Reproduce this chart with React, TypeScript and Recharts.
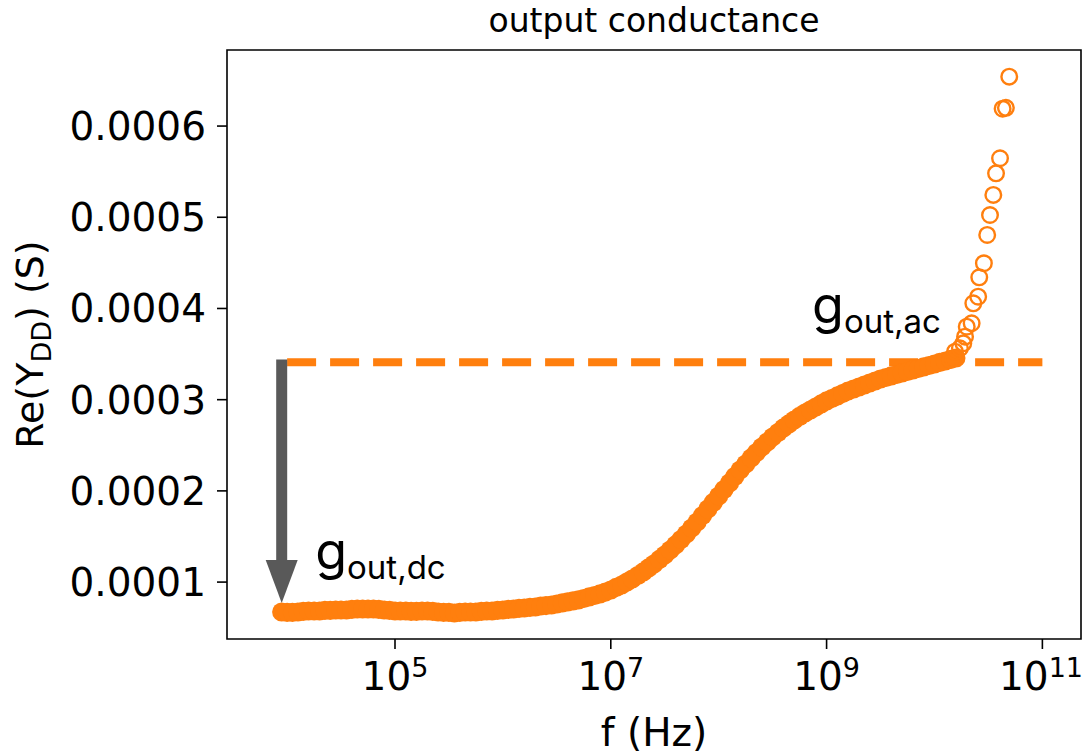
import React from 'react';
import {
  ScatterChart,
  Scatter,
  XAxis,
  YAxis,
  ReferenceLine,
  ReferenceArea,
  ReferenceDot,
} from 'recharts';

const ORANGE = '#ff7f0e';
const ARROW_GRAY = '#595959';
const FONT = '"DejaVu Sans", sans-serif';
const ANNOT_FONT = 'Inter, "DejaVu Sans", sans-serif';

// Frequency sweep (Hz) and measured Re(Y_DD) (S), dense part of the sweep
const sweepFreq = [
  8.91e3, 1.0e4, 1.12e4, 1.26e4, 1.41e4, 1.58e4, 1.78e4, 2.0e4, 2.24e4, 2.51e4, 2.82e4,
  3.16e4, 3.55e4, 3.98e4, 4.47e4, 5.01e4, 5.62e4, 6.31e4, 7.08e4, 7.94e4, 8.91e4,
  1.0e5, 1.12e5, 1.26e5, 1.41e5, 1.58e5, 1.78e5, 2.0e5, 2.24e5, 2.51e5, 2.82e5,
  3.16e5, 3.55e5, 3.98e5, 4.47e5, 5.01e5, 5.62e5, 6.31e5, 7.08e5, 7.94e5, 8.91e5,
  1.0e6, 1.12e6, 1.26e6, 1.41e6, 1.58e6, 1.78e6, 2.0e6, 2.24e6, 2.51e6, 2.82e6,
  3.16e6, 3.55e6, 3.98e6, 4.47e6, 5.01e6, 5.62e6, 6.31e6, 7.08e6, 7.94e6, 8.91e6,
  1.0e7, 1.12e7, 1.26e7, 1.41e7, 1.58e7, 1.78e7, 2.0e7, 2.24e7, 2.51e7, 2.82e7,
  3.16e7, 3.55e7, 3.98e7, 4.47e7, 5.01e7, 5.62e7, 6.31e7, 7.08e7, 7.94e7, 8.91e7,
  1.0e8, 1.12e8, 1.26e8, 1.41e8, 1.58e8, 1.78e8, 2.0e8, 2.24e8, 2.51e8, 2.82e8,
  3.16e8, 3.55e8, 3.98e8, 4.47e8, 5.01e8, 5.62e8, 6.31e8, 7.08e8, 7.94e8, 8.91e8,
  1.0e9, 1.12e9, 1.26e9, 1.41e9, 1.58e9, 1.78e9, 2.0e9, 2.24e9, 2.51e9, 2.82e9,
  3.16e9, 3.55e9, 3.98e9, 4.47e9, 5.01e9, 5.62e9, 6.31e9, 7.08e9, 7.94e9, 8.91e9,
  1.0e10, 1.12e10, 1.26e10, 1.41e10, 1.58e10,
];
const sweepReY = [
  6.72e-5, 6.67e-5, 6.67e-5, 6.72e-5, 6.78e-5, 6.83e-5, 6.83e-5, 6.83e-5, 6.89e-5, 6.89e-5, 6.94e-5,
  6.94e-5, 6.94e-5, 7.0e-5, 7.05e-5, 7.05e-5, 7.05e-5, 7.05e-5, 7.0e-5, 6.94e-5, 6.89e-5,
  6.83e-5, 6.83e-5, 6.83e-5, 6.78e-5, 6.78e-5, 6.83e-5, 6.83e-5, 6.78e-5, 6.72e-5, 6.67e-5,
  6.67e-5, 6.61e-5, 6.67e-5, 6.72e-5, 6.72e-5, 6.72e-5, 6.78e-5, 6.83e-5, 6.83e-5, 6.89e-5,
  6.94e-5, 7.0e-5, 7.05e-5, 7.11e-5, 7.16e-5, 7.22e-5, 7.27e-5, 7.38e-5, 7.43e-5, 7.49e-5,
  7.6e-5, 7.71e-5, 7.82e-5, 7.93e-5, 8.04e-5, 8.2e-5, 8.37e-5, 8.53e-5, 8.7e-5, 8.91e-5,
  9.13e-5, 9.41e-5, 9.68e-5, 1.001e-4, 1.034e-4, 1.072e-4, 1.111e-4, 1.155e-4, 1.198e-4, 1.248e-4,
  1.297e-4, 1.352e-4, 1.407e-4, 1.467e-4, 1.527e-4, 1.593e-4, 1.659e-4, 1.73e-4, 1.802e-4, 1.873e-4,
  1.944e-4, 2.015e-4, 2.087e-4, 2.158e-4, 2.229e-4, 2.295e-4, 2.361e-4, 2.421e-4, 2.481e-4, 2.536e-4,
  2.591e-4, 2.64e-4, 2.69e-4, 2.734e-4, 2.777e-4, 2.816e-4, 2.854e-4, 2.887e-4, 2.92e-4, 2.953e-4,
  2.986e-4, 3.013e-4, 3.041e-4, 3.068e-4, 3.095e-4, 3.117e-4, 3.139e-4, 3.161e-4, 3.183e-4, 3.205e-4,
  3.227e-4, 3.243e-4, 3.26e-4, 3.276e-4, 3.293e-4, 3.309e-4, 3.326e-4, 3.342e-4, 3.359e-4, 3.375e-4,
  3.391e-4, 3.408e-4, 3.424e-4, 3.441e-4, 3.457e-4,
];

// Upper end of the sweep, drawn as open circles
const tailFreq = [
  1.41e10, 1.55e10, 1.72e10, 1.85e10, 1.92e10, 1.99e10, 2.21e10, 2.29e10, 2.54e10, 2.6e10,
  2.87e10, 3.08e10, 3.27e10, 3.51e10, 3.72e10, 4.05e10, 4.28e10, 4.59e10, 4.93e10,
];
const tailReY = [
  3.44e-4, 3.526e-4, 3.564e-4, 3.618e-4, 3.691e-4, 3.8e-4, 3.838e-4, 4.057e-4, 4.129e-4, 4.342e-4,
  4.496e-4, 4.806e-4, 5.025e-4, 5.245e-4, 5.482e-4, 5.647e-4, 6.19e-4, 6.2e-4, 6.542e-4,
];

// Axis ticks
const xTicks = [1e5, 1e7, 1e9, 1e11];
const xTickExponents = ['5', '7', '9', '11'];
const yTicks = [0.0001, 0.0002, 0.0003, 0.0004, 0.0005, 0.0006];

// Axis ranges
const xDomain = [2773, 2.28e11];
const yDomain = [3.76e-5, 6.834e-4];

// g_out,ac level line and the arrow down to g_out,dc
const gOutAc = 3.41e-4;
const acLineFreq = [1e4, 1e11];
const arrowFreq = 8.91e3;
const arrowFrom = 3.44e-4;
const arrowTo = 7.71e-5;

// Annotation anchors (frequency, Re(Y) at text baseline)
const dcLabelPos = { f: 1.82e4, y: 1.144e-4 };
const acLabelPos = { f: 7.33e8, y: 3.841e-4 };

const sweepData = sweepFreq.map((f, i) => ({ f, y: sweepReY[i] }));
const tailData = tailFreq.map((f, i) => ({ f, y: tailReY[i] }));

const XTick = (props: any) => {
  const { x, y, payload } = props;
  const idx = xTicks.indexOf(payload.value);
  return (
    <text x={x} y={y + 39} textAnchor="middle" fontFamily={FONT} fontSize={39} fill="#000">
      10
      <tspan dy={-13} fontSize={27}>
        {xTickExponents[idx]}
      </tspan>
    </text>
  );
};

const YTick = (props: any) => {
  const { x, y, payload } = props;
  return (
    <text x={x} y={y + 14} textAnchor="end" fontFamily={FONT} fontSize={39} fill="#000">
      {Number(payload.value).toFixed(4)}
    </text>
  );
};

const XLabel = (props: any) => {
  const { viewBox } = props;
  const cx = viewBox.x + viewBox.width / 2;
  return (
    <text x={cx} y={viewBox.y + 107} textAnchor="middle" fontFamily={FONT} fontSize={39} fill="#000">
      f (Hz)
    </text>
  );
};

const YLabel = (props: any) => {
  const { viewBox } = props;
  const bx = viewBox.x + 16;
  const cy = viewBox.y + viewBox.height / 2;
  return (
    <text
      x={bx}
      y={cy}
      transform={`rotate(-90, ${bx}, ${cy})`}
      textAnchor="middle"
      fontFamily={FONT}
      fontSize={38}
      fill="#000"
    >
      Re(Y
      <tspan fontSize={27} dy={8}>
        DD
      </tspan>
      <tspan dy={-8}>) (S)</tspan>
    </text>
  );
};

const filledDot = (p: any) => <circle cx={p.cx} cy={p.cy} r={9.6} fill={ORANGE} />;
const openDot = (p: any) => (
  <circle cx={p.cx} cy={p.cy} r={7.8} fill="none" stroke={ORANGE} strokeWidth={2.4} />
);

const Arrow = (p: any) => {
  const { x1, y1, x2, y2 } = p;
  const head = 43;
  const half = 16;
  return (
    <g>
      <line x1={x1} y1={y1} x2={x2} y2={y2 - head + 1} stroke={ARROW_GRAY} strokeWidth={11} />
      <polygon points={`${x2 - half},${y2 - head} ${x2 + half},${y2 - head} ${x2},${y2}`} fill={ARROW_GRAY} />
    </g>
  );
};

const gLabel = (sub: string) => (p: any) => (
  <text x={p.cx} y={p.cy} fontFamily={ANNOT_FONT} fill="#000">
    <tspan fontSize={52}>g</tspan>
    <tspan fontSize={33} dy={10}>
      {sub}
    </tspan>
  </text>
);

export default function App() {
  return (
    <div style={{ position: 'absolute', left: 0, top: 0, width: 1089, height: 754, background: '#fff' }}>
      <ScatterChart width={1089} height={754} margin={{ top: 50, right: 8, bottom: 35, left: 27 }}>
        <XAxis
          dataKey="f"
          type="number"
          scale="log"
          domain={xDomain}
          allowDataOverflow
          ticks={xTicks}
          tick={<XTick />}
          tickSize={10}
          tickMargin={2}
          tickLine={{ stroke: '#000', strokeWidth: 1.6 }}
          axisLine={false}
          height={80}
          label={<XLabel />}
        />
        <YAxis
          dataKey="y"
          type="number"
          domain={yDomain}
          allowDataOverflow
          ticks={yTicks}
          tick={<YTick />}
          tickSize={10}
          tickMargin={11}
          tickLine={{ stroke: '#000', strokeWidth: 1.6 }}
          axisLine={false}
          width={200}
          label={<YLabel />}
        />
        <ReferenceArea
          x1={xDomain[0]}
          x2={xDomain[1]}
          y1={yDomain[0]}
          y2={yDomain[1]}
          fill="none"
          stroke="#000"
          strokeWidth={1.6}
          fillOpacity={0}
        />
        <ReferenceLine
          segment={[
            { x: acLineFreq[0], y: gOutAc },
            { x: acLineFreq[1], y: gOutAc },
          ]}
          stroke={ORANGE}
          strokeWidth={8}
          strokeDasharray="29 14"
        />
        <Scatter data={sweepData} shape={filledDot} isAnimationActive={false} />
        <Scatter data={tailData} shape={openDot} isAnimationActive={false} />
        <ReferenceLine
          segment={[
            { x: arrowFreq, y: arrowFrom },
            { x: arrowFreq, y: arrowTo },
          ]}
          shape={<Arrow />}
        />
        <ReferenceDot x={dcLabelPos.f} y={dcLabelPos.y} r={0} shape={gLabel('out,dc')} />
        <ReferenceDot x={acLabelPos.f} y={acLabelPos.y} r={0} shape={gLabel('out,ac')} />
      </ScatterChart>
      <svg
        width={1089}
        height={50}
        style={{ position: 'absolute', left: 0, top: 0, pointerEvents: 'none' }}
      >
        <text x={654} y={32} textAnchor="middle" fontFamily={FONT} fontSize={33} fill="#000">
          output conductance
        </text>
      </svg>
    </div>
  );
}
